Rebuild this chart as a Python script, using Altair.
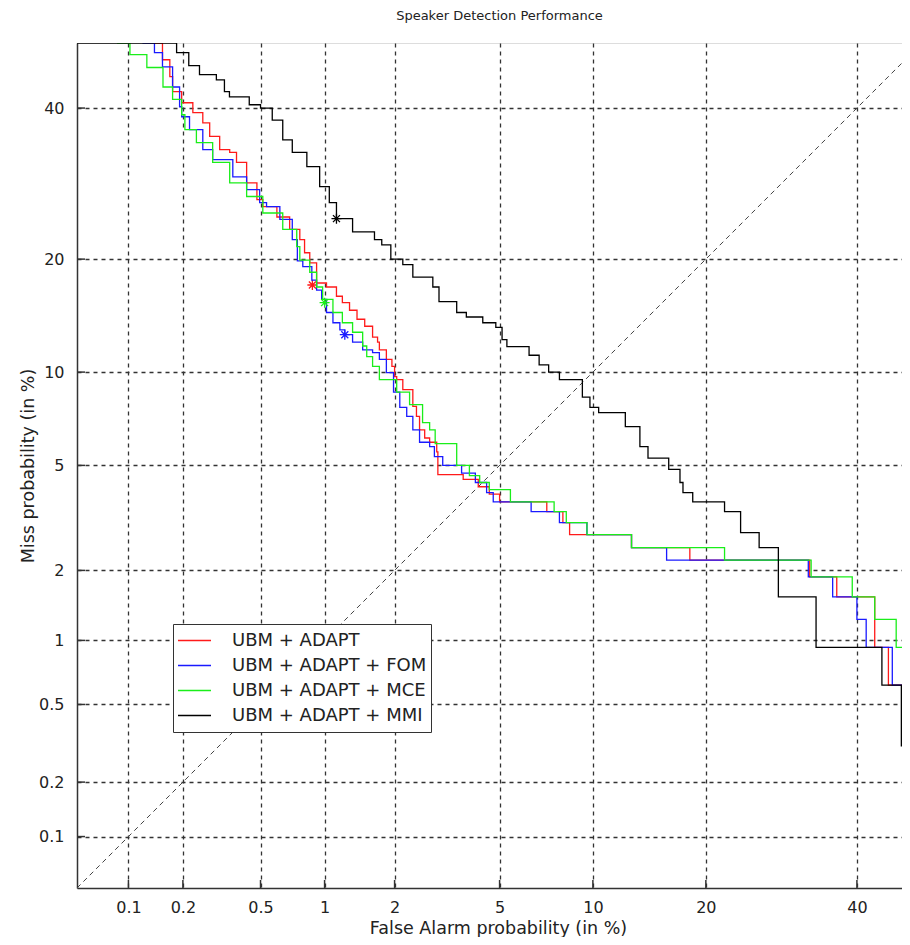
import altair as alt
import pandas as pd
from statistics import NormalDist

# ---------------- data (percent values) ----------------
series_names = ["UBM + ADAPT", "UBM + ADAPT + FOM", "UBM + ADAPT + MCE", "UBM + ADAPT + MMI"]
series_colors = ["#ff1a1a", "#1a1aff", "#1aee1a", "#000000"]

adapt_fa = [0.14, 0.155, 0.17, 0.176, 0.197, 0.226, 0.255, 0.277, 0.312, 0.351,
            0.38, 0.427, 0.48, 0.513, 0.6, 0.69, 0.77, 0.81, 0.856, 0.92,
            1.02, 1.13, 1.2, 1.29, 1.39, 1.5, 1.62, 1.7, 1.73, 1.85,
            1.95, 2.0, 2.04, 2.16, 2.37, 2.45, 2.52, 2.64, 2.76, 2.94,
            2.97, 3.7, 4.2, 4.6, 5.0, 7.2, 8.1, 8.5, 12.9, 18.3,
            33.1, 37.0, 42.7, 44.8, 48]
adapt_miss = [50, 47.4, 44.8, 42.5, 40.8, 39.3, 37.8, 35.8, 33.9, 33.5,
              32.1, 29.3, 27.1, 26.2, 24.9, 23.4, 22.2, 20.7, 19.6, 17.5,
              17.1, 16.2, 15.6, 14.9, 14.1, 13.5, 12.6, 12.2, 11.6, 10.9,
              10.4, 9.7, 9.5, 8.85, 7.85, 7.3, 6.6, 6.2, 6.0, 5.57,
              4.64, 4.46, 4.2, 3.95, 3.7, 3.4, 3.09, 2.78, 2.47, 2.2,
              1.88, 1.55, 0.93, 0.62, 0.62]

fom_fa = [0.12, 0.14, 0.155, 0.176, 0.192, 0.197, 0.217, 0.255, 0.287, 0.364,
          0.427, 0.495, 0.535, 0.62, 0.71, 0.75, 0.795, 0.875, 0.92, 0.97,
          1.02, 1.09, 1.17, 1.23, 1.33, 1.47, 1.62, 1.73, 1.85, 1.98,
          2.1, 2.24, 2.37, 2.52, 2.76, 2.88, 3.1, 3.65, 4.1, 4.5,
          4.75, 6.4, 7.9, 9.6, 12.9, 16.0, 32.9, 36.4, 40.0, 41.4,
          45.4, 48]
fom_miss = [50, 48.5, 46.3, 43.2, 40.2, 38.7, 36.8, 33.9, 32.5, 30.1,
            28.4, 26.7, 26.2, 24.6, 22.2, 19.8, 19.2, 17.8, 16.8, 15.9,
            14.7, 13.8, 13.2, 12.8, 12.2, 11.6, 11.4, 10.9, 9.97, 8.7,
            7.8, 7.3, 6.6, 6.0, 5.8, 5.36, 5.0, 4.7, 4.35, 4.0,
            3.7, 3.4, 3.09, 2.78, 2.47, 2.2, 1.88, 1.55, 1.24, 0.93,
            0.62, 0.62]

mce_fa = [0.086, 0.102, 0.127, 0.156, 0.176, 0.197, 0.205, 0.236, 0.287, 0.351,
          0.427, 0.513, 0.64, 0.745, 0.77, 0.856, 0.92, 0.98, 1.09, 1.2,
          1.33, 1.47, 1.53, 1.62, 1.73, 2.04, 2.3, 2.59, 2.76, 2.9,
          3.5, 3.9, 4.25, 4.6, 5.45, 7.6, 8.3, 9.6, 12.9, 22.1,
          33.3, 39.3, 42.7, 46.0, 47.7, 48]
mce_miss = [50, 48.2, 46.2, 43.2, 41.3, 39.0, 36.8, 34.9, 32.1, 29.3,
            27.5, 25.4, 23.4, 21.4, 19.9, 18.6, 17.1, 15.9, 14.7, 13.8,
            13.0, 11.9, 11.1, 10.4, 9.5, 8.7, 7.95, 6.97, 6.6, 5.94,
            5.0, 4.6, 4.35, 4.1, 3.7, 3.4, 3.09, 2.78, 2.47, 2.2,
            1.88, 1.55, 1.24, 0.93, 0.62, 0.62]

mmi_fa = [0.05, 0.185, 0.215, 0.245, 0.30, 0.33, 0.35, 0.44, 0.50, 0.57,
          0.64, 0.71, 0.83, 0.95, 1.05, 1.13, 1.33, 1.65, 1.77, 1.93,
          2.16, 2.37, 2.84, 3.0, 3.5, 3.8, 4.36, 4.85, 5.1, 5.3,
          6.3, 6.8, 7.3, 7.9, 9.3, 9.8, 10.4, 12.4, 13.6, 14.3,
          16.2, 17.3, 17.6, 18.6, 22.1, 24.0, 26.3, 28.8, 34.0, 43.8,
          46.8, 48]
mmi_miss = [50, 48.5, 46.5, 45.1, 44.3, 42.5, 41.7, 40.5, 40.0, 38.2,
            35.3, 33.5, 31.5, 28.8, 26.7, 24.7, 23.1, 22.2, 21.6, 20.0,
            19.4, 18.1, 17.1, 15.7, 14.7, 14.3, 13.8, 13.4, 12.4, 11.85,
            11.2, 10.5, 10.0, 9.5, 8.4, 7.8, 7.5, 6.76, 5.8, 5.3,
            4.84, 4.35, 4.0, 3.7, 3.4, 2.83, 2.47, 1.55, 0.93, 0.62,
            0.31, 0.31]

# minimum-cost operating points (stars)
star_fa = [0.88, 1.23, 1.0, 1.13]
star_miss = [17.3, 12.8, 15.6, 24.7]

tick_pct = [0.1, 0.2, 0.5, 1, 2, 5, 10, 20, 40]
diag_pct = [0.05, 46.9]
x_range_pct = [0.05, 46.9]
y_range_pct = [0.05, 50]

# ---------------- build tables ----------------
curves = [(adapt_fa, adapt_miss), (fom_fa, fom_miss), (mce_fa, mce_miss), (mmi_fa, mmi_miss)]
rows = []
for name, (fa, miss) in zip(series_names, curves):
    for i, (a, b) in enumerate(zip(fa, miss)):
        rows.append({"series": name, "fa": a, "miss": b, "idx": i})
df = pd.DataFrame(rows)
stars = pd.DataFrame({"series": series_names, "fa": star_fa, "miss": star_miss})
ticks_df = pd.DataFrame({"t": tick_pct})
diag_df = pd.DataFrame({"fa": diag_pct, "miss": diag_pct})

nd = NormalDist()
probit = lambda p: nd.inv_cdf(p / 100.0)
tick_vals = [probit(t) for t in tick_pct]

W, H = 825, 845
FONT = "DejaVu Sans"
label_expr = "format(cumulativeNormal(datum.value) * 100, '.2~g')"

xscale = alt.Scale(domain=[probit(v) for v in x_range_pct], nice=False, zero=False)
yscale = alt.Scale(domain=[probit(v) for v in y_range_pct], nice=False, zero=False)

common = dict(values=tick_vals, labelExpr=label_expr, grid=True, gridDash=[4, 4],
              gridColor="#333333", gridWidth=1.3, ticks=False, tickSize=0,
              domainColor="#333333", domainWidth=1.5, labelFont=FONT, labelFontSize=16,
              labelColor="#222222", labelOverlap=False, titleFont=FONT, titleFontSize=17.5,
              titleFontWeight="normal", titleColor="#222222")
xaxis = alt.Axis(title="False Alarm probability (in %)", labelPadding=11,
                 titleBaseline="alphabetic", titleX=421, titleY=45, **common)
yaxis = alt.Axis(title="Miss probability (in %)", labelPadding=13,
                 titleBaseline="alphabetic", titleX=-44, titleY=H / 2, titleAngle=270, **common)

color_scale = alt.Scale(domain=series_names, range=series_colors)
legend = alt.Legend(orient="none", legendX=96, legendY=581, title=None,
                    symbolType="stroke", symbolSize=1089, symbolStrokeWidth=1.4,
                    labelFont=FONT, labelFontSize=18, labelColor="#222222", labelLimit=500,
                    labelOffset=20, strokeColor="#333333", fillColor="white",
                    padding=4, rowPadding=0, clipHeight=25)

calc = dict(zx="quantileNormal(datum.fa / 100)", zy="quantileNormal(datum.miss / 100)")

diag = alt.Chart(diag_df).transform_calculate(**calc).mark_line(
    color="#444444", strokeDash=[5, 4], strokeWidth=1
).encode(x=alt.X("zx:Q", scale=xscale, axis=xaxis), y=alt.Y("zy:Q", scale=yscale, axis=yaxis))

xticks = alt.Chart(ticks_df).transform_calculate(z="quantileNormal(datum.t / 100)").mark_rule(
    color="#333333", strokeWidth=1.5
).encode(x=alt.X("z:Q", scale=xscale), y=alt.value(H), y2=alt.value(H - 8))
yticks = alt.Chart(ticks_df).transform_calculate(z="quantileNormal(datum.t / 100)").mark_rule(
    color="#333333", strokeWidth=1.5
).encode(y=alt.Y("z:Q", scale=yscale), x=alt.value(0), x2=alt.value(8))

layers = [diag, xticks, yticks]
star_shape = "M-1,0L1,0M0,-1L0,1M-0.7,-0.7L0.7,0.7M-0.7,0.7L0.7,-0.7"
for name, col in zip(series_names, series_colors):
    line = alt.Chart(df).transform_filter(alt.datum.series == name).transform_calculate(**calc).mark_line(
        interpolate="step-after", strokeWidth=1.3, clip=True
    ).encode(
        x=alt.X("zx:Q", scale=xscale),
        y=alt.Y("zy:Q", scale=yscale),
        color=alt.Color("series:N", scale=color_scale, legend=legend),
        order="idx:Q",
    )
    star = alt.Chart(stars).transform_filter(alt.datum.series == name).transform_calculate(**calc).mark_point(
        shape=star_shape, size=100, filled=False, strokeWidth=1.3, color=col, opacity=1
    ).encode(x=alt.X("zx:Q", scale=xscale), y=alt.Y("zy:Q", scale=yscale))
    layers += [line, star]

chart = alt.layer(*layers).properties(
    width=W, height=H,
    title=alt.TitleParams("Speaker Detection Performance", font=FONT, fontSize=13,
                          fontWeight="normal", color="#222222", anchor="middle", dx=10, offset=20),
    autosize=alt.AutoSizeParams(type="none"),
    padding={"left": 69, "top": 35, "right": 0, "bottom": 49},
).configure_view(stroke=None).configure(background="white")

chart.save("out.html", embed_options={"renderer": "svg", "actions": False})
